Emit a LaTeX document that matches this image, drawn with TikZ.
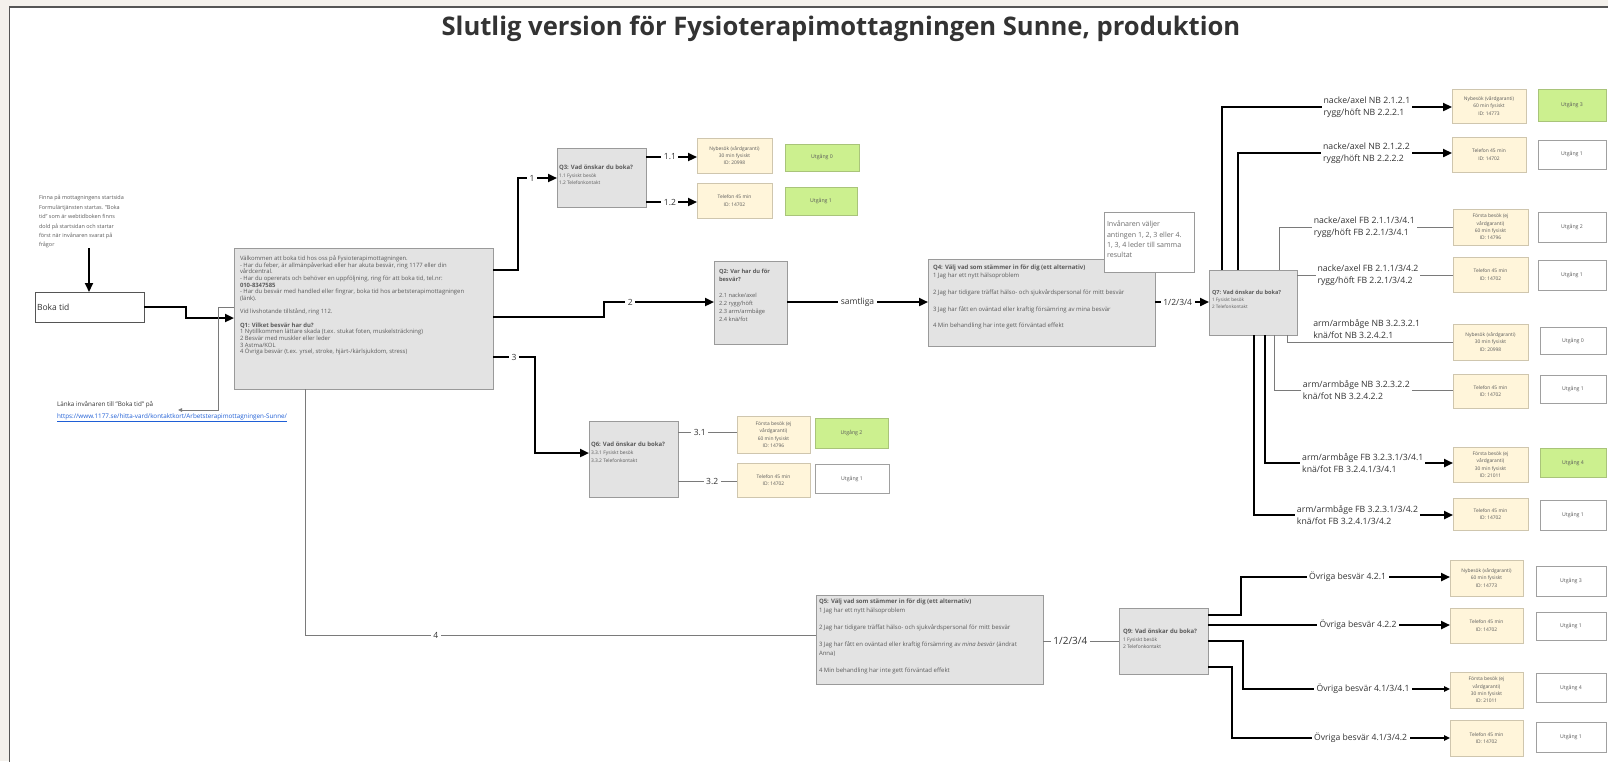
\documentclass[tikz,border=0pt]{standalone}
\usepackage{fontspec}
\setmainfont{Open Sans}
\usetikzlibrary{arrows.meta}
\definecolor{bgc}{HTML}{F4F1EC}
\definecolor{framec}{HTML}{555555}
\definecolor{qfill}{HTML}{E3E3E3}
\definecolor{qline}{HTML}{9A9A9A}
\definecolor{bfill}{HTML}{FFF5DA}
\definecolor{bline}{HTML}{CFC6AE}
\definecolor{gfill}{HTML}{CCF08F}
\definecolor{gline}{HTML}{A9C47A}
\definecolor{uline}{HTML}{A0A0A0}
\definecolor{txt}{HTML}{5A5A5A}
\definecolor{dtxt}{HTML}{333333}
\definecolor{thinl}{HTML}{7A7A7A}
\definecolor{linkc}{HTML}{1F5FD6}
\newcommand{\myfs}[2]{\fontsize{#1}{#2}\selectfont}
\newcommand{\bxx}[7]{\pgfmathsetmacro{\myw}{#5-#3}\pgfmathsetmacro{\myh}{#6-#4}\node[#1,minimum width=\myw pt,minimum height=\myh pt,anchor=north west,align=center] (#2) at (#3,#4) {#7};}
\begin{document}
\begin{tikzpicture}[x=1pt,y=-1pt,
 every node/.style={inner sep=0pt,outer sep=0pt},
 qbox/.style={draw=qline,fill=qfill,line width=0.9pt},
 qtxt/.style={anchor=north west,align=left,text=txt},
 bbox/.style={draw=bline,fill=bfill,line width=0.8pt,text=txt,font=\myfs{4.9}{7.4}},
 ubox/.style={draw=uline,fill=white,line width=0.8pt,text=txt,font=\myfs{5.2}{6}},
 gbox/.style={ubox,draw=gline,fill=gfill},
 thk/.style={line width=2.2pt,black},
 medl/.style={line width=1.3pt,black},
 thn/.style={line width=0.8pt,thinl},
 arr/.style={-{Triangle[length=9pt,width=8pt]}},
 sarr/.style={-{Triangle[length=6pt,width=5.5pt]}},
 tarr/.style={-{Triangle[length=4pt,width=3.5pt]}},
 lbl/.style={fill=white,text=dtxt,inner sep=2.5pt,font=\myfs{8.5}{10}},
 lbltwo/.style={fill=white,text=dtxt,inner sep=2pt,align=left,font=\myfs{8.7}{12}},
 lblo/.style={lbl,font=\myfs{8.6}{10}},
]
\clip (0,0) rectangle (1608,761);
\fill[bgc] (0,0) rectangle (1608,761);
\draw[framec,line width=1.5pt,fill=white] (9.5,7) rectangle (1630,790);

\node[font=\bfseries\myfs{25.6}{28},text=dtxt] (title) at (841,29) {Slutlig version för Fysioterapimottagningen Sunne, produktion};

% left part
\node[qtxt,font=\myfs{5.45}{9.4}] (note) at (39,195.5) {Finna på mottagningens startsida\\Formulärtjänsten startas. "Boka\\tid" som är webtidboken finns\\dold på startsidan och startar\\först när invånaren svarat på\\frågor};
\bxx{draw=framec,fill=white,line width=0.8pt,text=dtxt,font=\myfs{8}{10}}{boka}{35}{292}{144}{322}{}
\node[anchor=west,text=dtxt,font=\myfs{8.5}{10}] (bokat) at (37,307) {Boka tid};
\node[qtxt,font=\myfs{6.3}{12},text=dtxt] (link) at (57,401.5) {Länka invånaren till "Boka tid" på\\\textcolor{linkc}{\underline{https://www.1177.se/hitta-vard/kontaktkort/Arbetsterapimottagningen-Sunne/}}};
\coordinate (lnk) at (178,410);

% Q boxes
\bxx{qbox}{q1}{234}{248}{493}{389}{}
\node[qtxt,font=\myfs{5.9}{6.7}] (q1t) at (240,255.5) {Välkommen att boka tid hos oss på Fysioterapimottagningen.\\- Har du feber, är allmänpåverkad eller har akuta besvär, ring 1177 eller din\\vårdcentral.\\- Har du opererats och behöver en uppföljning, ring för att boka tid, tel.nr:\\\textbf{010-8347585}\\- Har du besvär med handled eller fingrar, boka tid hos arbetsterapimottagningen\\(länk).\\[6.6pt]Vid livshotande tillstånd, ring 112.\\[6.6pt]\textbf{Q1: Vilket besvär har du?}\\1 Nytillkommen lättare skada (t.ex. stukat foten, muskelsträckning)\\2 Besvär med muskler eller leder\\3 Astma/KOL\\4 Övriga besvär (t.ex. yrsel, stroke, hjärt-/kärlsjukdom, stress)};

\bxx{qbox}{q3}{557}{148}{646}{207}{}
\node[qtxt,font=\myfs{4.8}{7.5}] (q3t) at (559,165) {\textbf{\myfs{6}{7.5}Q3: Vad önskar du boka?}\\1.1 Fysiskt besök\\1.2 Telefonkontakt};

\bxx{qbox}{q2}{714}{261}{787}{344}{}
\node[qtxt,font=\myfs{5.7}{8}] (q2t) at (719,269) {\textbf{Q2: Var har du för}\\\textbf{besvär?}\\[8pt]2.1 nacke/axel\\2.2 rygg/höft\\2.3 arm/armbåge\\2.4 knä/fot};

\bxx{qbox}{q4}{928}{259}{1155}{346}{}
\node[qtxt,font=\myfs{6}{8.3}] (q4t) at (933,265) {\textbf{Q4: Välj vad som stämmer in för dig (ett alternativ)}\\1 Jag har ett nytt hälsoproblem\\[8.3pt]2 Jag har tidigare träffat hälso- och sjukvårdspersonal för mitt besvär\\[8.3pt]3 Jag har fått en oväntad eller kraftig försämring av mina besvär\\[8.3pt]4 Min behandling har inte gett förväntad effekt};

\bxx{draw=qline,fill=white,line width=0.9pt}{inv}{1104}{212}{1194}{272}{}
\node[qtxt,font=\myfs{7.1}{10.3},text=txt!90] (invt) at (1107,221) {Invånaren väljer\\antingen 1, 2, 3 eller 4.\\1, 3, 4 leder till samma\\resultat};

\bxx{qbox}{q6}{589}{421}{678}{497}{}
\node[qtxt,font=\myfs{4.9}{8}] (q6t) at (591,442) {\textbf{\myfs{6}{8}Q6: Vad önskar du boka?}\\3.3.1 Fysiskt besök\\3.3.2 Telefonkontakt};

\bxx{qbox}{q7}{1209}{270}{1297}{335}{}
\node[qtxt,font=\myfs{4.6}{7}] (q7t) at (1212,290) {\textbf{\myfs{5.6}{7}Q7: Vad önskar du boka?}\\1 Fysiskt besök\\2 Telefonkontakt};

\bxx{qbox}{q5}{816}{595}{1043}{684}{}
\node[qtxt,font=\myfs{6}{8.6}] (q5t) at (819,599) {\textbf{Q5: Välj vad som stämmer in för dig (ett alternativ)}\\1 Jag har ett nytt hälsoproblem\\[8.6pt]2 Jag har tidigare träffat hälso- och sjukvårdspersonal för mitt besvär\\[8.6pt]3 Jag har fått en oväntad eller kraftig försämring av \textit{mina besvär} (ändrat\\Anna)\\[8.6pt]4 Min behandling har inte gett förväntad effekt};

\bxx{qbox}{q9}{1119}{608}{1208}{674}{}
\node[qtxt,font=\myfs{4.9}{7.5}] (q9t) at (1123,629) {\textbf{\myfs{6}{7.5}Q9: Vad önskar du boka?}\\1 Fysiskt besök\\2 Telefonkontakt};

% beige boxes
\bxx{bbox}{nb1}{697}{138}{772}{173}{Nybesök (vårdgaranti)\\30 min fysiskt\\ID: 20998}
\bxx{bbox}{tel1}{697}{183}{772}{218}{Telefon 45 min\\ID: 14702}
\bxx{bbox}{fb1}{737}{416}{810}{453}{Första besök (ej\\vårdgaranti)\\60 min fysiskt\\ID: 14796}
\bxx{bbox}{tel2}{737}{463}{810}{497}{Telefon 45 min\\ID: 14702}
\bxx{bbox}{nb2}{1452}{89}{1526}{123}{Nybesök (vårdgaranti)\\60 min fysiskt\\ID: 14773}
\bxx{bbox}{tel3}{1452}{137}{1526}{172}{Telefon 45 min\\ID: 14702}
\bxx{bbox}{fb2}{1453}{209}{1528}{245}{Första besök (ej\\vårdgaranti)\\60 min fysiskt\\ID: 14796}
\bxx{bbox}{tel4}{1453}{257}{1528}{292}{Telefon 45 min\\ID: 14702}
\bxx{bbox}{nb3}{1453}{324}{1528}{360}{Nybesök (vårdgaranti)\\30 min fysiskt\\ID: 20998}
\bxx{bbox}{tel5}{1453}{374}{1528}{408}{Telefon 45 min\\ID: 14702}
\bxx{bbox}{fb3}{1453}{447}{1528}{482}{Första besök (ej\\vårdgaranti)\\30 min fysiskt\\ID: 21011}
\bxx{bbox}{tel6}{1453}{498}{1528}{530}{Telefon 45 min\\ID: 14702}
\bxx{bbox}{nb4}{1450}{560}{1523}{596}{Nybesök (vårdgaranti)\\60 min fysiskt\\ID: 14773}
\bxx{bbox}{tel7}{1450}{608}{1523}{643}{Telefon 45 min\\ID: 14702}
\bxx{bbox}{fb4}{1450}{672}{1523}{708}{Första besök (ej\\vårdgaranti)\\30 min fysiskt\\ID: 21011}
\bxx{bbox}{tel8}{1450}{720}{1523}{756}{Telefon 45 min\\ID: 14702}

% exits
\bxx{gbox}{u1}{785}{144}{859}{171}{Utgång 0}
\bxx{gbox}{u2}{785}{187}{857}{215}{Utgång 1}
\bxx{gbox}{u3}{815}{418}{888}{448}{Utgång 2}
\bxx{ubox}{u4}{815}{464}{889}{493}{Utgång 1}
\bxx{gbox}{u5}{1538}{89}{1606}{121}{Utgång 3}
\bxx{ubox}{u6}{1538}{140}{1606}{169}{Utgång 1}
\bxx{ubox}{u7}{1538}{212}{1606}{242}{Utgång 2}
\bxx{ubox}{u8}{1538}{260}{1606}{290}{Utgång 1}
\bxx{ubox}{u9}{1540}{327}{1606}{354}{Utgång 0}
\bxx{ubox}{u10}{1540}{375}{1606}{403}{Utgång 1}
\bxx{gbox}{u11}{1540}{448}{1606}{477}{Utgång 4}
\bxx{ubox}{u12}{1540}{500}{1606}{530}{Utgång 1}
\bxx{ubox}{u13}{1536}{566}{1606}{596}{Utgång 3}
\bxx{ubox}{u14}{1536}{612}{1606}{640}{Utgång 1}
\bxx{ubox}{u15}{1536}{673}{1606}{702}{Utgång 4}
\bxx{ubox}{u16}{1536}{722}{1606}{752}{Utgång 1}

% connectors
\draw[thk,arr] (note.south -| 89,0) -- (89,0 |- boka.north);
\draw[thk,arr] (boka.east) -- (186,0 |- boka.east) -- (186,318) -- (q1.west |- 0,318);
\draw[thn,tarr] (q1.west |- 0,307) -- (218,307) -- (218,410) -- (lnk);
\draw[thk,arr] (q1.east |- 0,270) -- (518,270) -- (518,178) -- node[lbl,pos=0.36]{1} (q3.west |- 0,178);
\draw[thk,arr] (q3.east |- 0,157) -- node[lbl,pos=0.47]{1.1} (nb1.west |- 0,157);
\draw[thk,arr] (q3.east |- 0,202) -- node[lbl,pos=0.47]{1.2} (tel1.west |- 0,202);
\draw[thk,arr] (q1.east |- 0,317) -- (604,317) -- (604,302) -- node[lbl,pos=0.24]{2} (q2.west |- 0,302);
\draw[thk,arr] (q2.east |- 0,302) -- node[lbl]{samtliga} (q4.west |- 0,302);
\draw[thk,arr] (q1.east |- 0,357) -- node[lbl]{3} (535,357) -- (535,453) -- (q6.west |- 0,453);
\draw[thn] (q6.east |- 0,432) -- node[lbl,pos=0.37]{3.1} (fb1.west |- 0,432);
\draw[thn] (q6.east |- 0,481) -- node[lbl,pos=0.58]{3.2} (tel2.west |- 0,481);
\draw[thn] (305,0 |- q1.south) -- (305,635) -- node[lbl,pos=0.256]{4} (q5.west |- 0,635);
\draw[thk,arr] (q4.east |- 0,302) -- node[lbl,pos=0.42]{1/2/3/4} (q7.west |- 0,302);
\draw[thn] (q5.east |- 0,641) -- node[lbl,pos=0.36,font=\myfs{10}{12}]{1/2/3/4} (q9.west |- 0,641);

% Q7 outputs
\draw[thk,arr] (1222,0 |- q7.north) -- (1222,107) -- node[lbltwo,pos=0.63]{nacke/axel NB 2.1.2.1\\rygg/höft NB 2.2.2.1} (nb2.west |- 0,107);
\draw[thk,arr] (1238,0 |- q7.north) -- (1238,153) -- node[lbltwo,pos=0.60]{nacke/axel NB 2.1.2.2\\rygg/höft NB 2.2.2.2} (tel3.west |- 0,153);
\draw[thn] (1279,0 |- q7.north) -- (1279,227) -- node[lbltwo,pos=0.49]{nacke/axel FB 2.1.1/3/4.1\\rygg/höft FB 2.2.1/3/4.1} (fb2.west |- 0,227);
\draw[thn] (q7.east |- 0,275) -- node[lbltwo,pos=0.455]{nacke/axel FB 2.1.1/3/4.2\\rygg/höft FB 2.2.1/3/4.2} (tel4.west |- 0,275);
\draw[thn] (1287,0 |- q7.south) -- (1287,342) -- node[lbltwo,pos=0.48,yshift=13pt]{arm/armbåge NB 3.2.3.2.1\\knä/fot NB 3.2.4.2.1} (nb3.west |- 0,342);
\draw[thn] (1274,0 |- q7.south) -- (1274,390) -- node[lbltwo,pos=0.46]{arm/armbåge NB 3.2.3.2.2\\knä/fot NB 3.2.4.2.2} (tel5.west |- 0,390);
\draw[thk,arr] (1265,0 |- q7.south) -- (1265,463) -- node[lbltwo,pos=0.52]{arm/armbåge FB 3.2.3.1/3/4.1\\knä/fot FB 3.2.4.1/3/4.1} (fb3.west |- 0,463);
\draw[thk,arr] (1254,0 |- q7.south) -- (1254,515) -- node[lbltwo,pos=0.52]{arm/armbåge FB 3.2.3.1/3/4.2\\knä/fot FB 3.2.4.1/3/4.2} (tel6.west |- 0,515);

% Q9 outputs
\draw[thk,arr] (q9.east |- 0,615) -- (1241,615) -- (1241,577) -- node[lblo,pos=0.51]{Övriga besvär 4.2.1} (nb4.west |- 0,577);
\draw[thk,arr] (q9.east |- 0,625) -- node[lblo,pos=0.62]{Övriga besvär 4.2.2} (tel7.west |- 0,625);
\draw[medl,sarr] (q9.east |- 0,641) -- (1243,641) -- (1243,689) -- node[lblo,pos=0.58]{Övriga besvär 4.1/3/4.1} (fb4.west |- 0,689);
\draw[medl,sarr] (q9.east |- 0,667) -- (1232,667) -- (1232,738) -- node[lblo,pos=0.59]{Övriga besvär 4.1/3/4.2} (tel8.west |- 0,738);
\end{tikzpicture}
\end{document}
